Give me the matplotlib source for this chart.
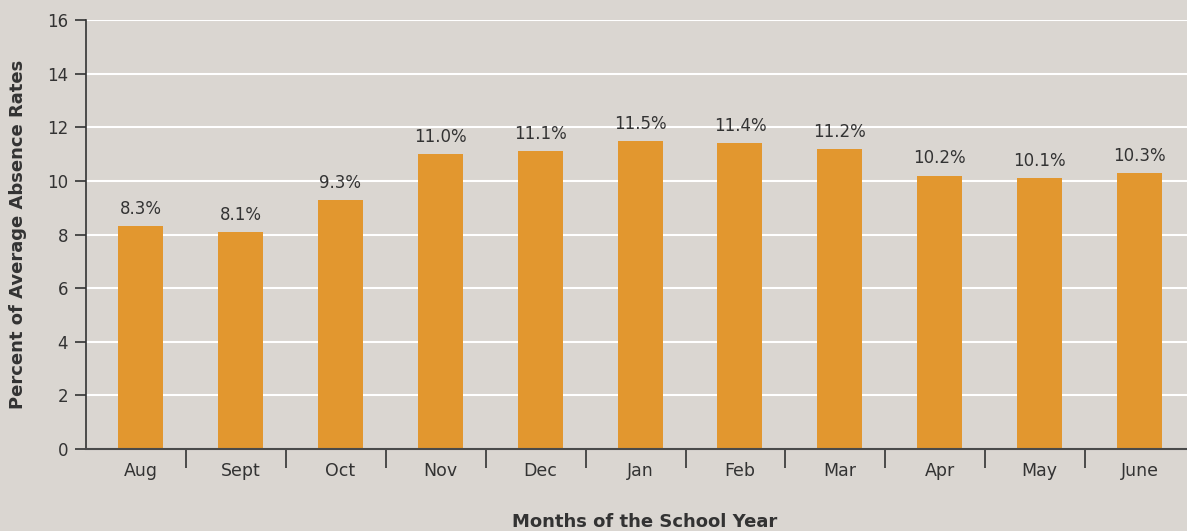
import numpy as np
import matplotlib
matplotlib.use("Agg")
import matplotlib.pyplot as plt

# data
months = ["Aug", "Sept", "Oct", "Nov", "Dec", "Jan", "Feb", "Mar", "Apr", "May", "June"]
rates = [8.3, 8.1, 9.3, 11.0, 11.1, 11.5, 11.4, 11.2, 10.2, 10.1, 10.3]
yticks = [0, 2, 4, 6, 8, 10, 12, 14, 16]

bg = "#dad6d1"
bar_color = "#e2972f"
ink = "#333333"

plt.rcParams['font.family'] = ['DejaVu Sans']

fig = plt.figure(figsize=(11.87, 5.31), dpi=100, facecolor=bg)
ax = fig.add_axes([86/1187, 82/531, 1 - 86/1187, 429/531], facecolor=bg)

x = np.arange(len(months))
ax.bar(x, rates, width=0.45, color=bar_color, zorder=3)

for xi, v in zip(x, rates):
    ax.text(xi, v + 0.3, f"{v:.1f}%", ha="center", va="bottom",
            fontsize=12, color=ink, zorder=4)

ax.set_xlim(-0.546, 10.475)
ax.set_ylim(0, 16)

ax.set_yticks(yticks)
ax.set_yticklabels([str(t) for t in yticks], fontsize=12, color=ink)
ax.yaxis.grid(True, color="white", linewidth=1.5, zorder=0)
ax.set_axisbelow(True)

# month labels centred, boundary ticks between months
ax.set_xticks(x)
ax.set_xticklabels(months, fontsize=12.5, color=ink)
ax.tick_params(axis="x", which="major", length=0, pad=9)
ax.set_xticks(np.arange(len(months) - 1) + 0.455, minor=True)
ax.tick_params(axis="x", which="minor", length=14, width=1.2, color=ink, direction="out")
ax.tick_params(axis="y", length=8, width=1.2, color=ink, pad=5)

for s in ["top", "right"]:
    ax.spines[s].set_visible(False)
ax.spines["left"].set_color(ink)
ax.spines["left"].set_linewidth(1.2)
ax.spines["bottom"].set_color("#4a4a4a")
ax.spines["bottom"].set_linewidth(1.5)
ax.spines["bottom"].set_zorder(5)

fig.text(18/1187, 1 - 234/531, "Percent of Average Absence Rates", rotation=90,
         ha="center", va="center", fontsize=13, fontweight="bold", color=ink)
fig.text(645/1187, 1 - 522/531, "Months of the School Year",
         ha="center", va="center", fontsize=13, fontweight="bold", color=ink)

fig.savefig("out.png", dpi=100, facecolor=bg)
